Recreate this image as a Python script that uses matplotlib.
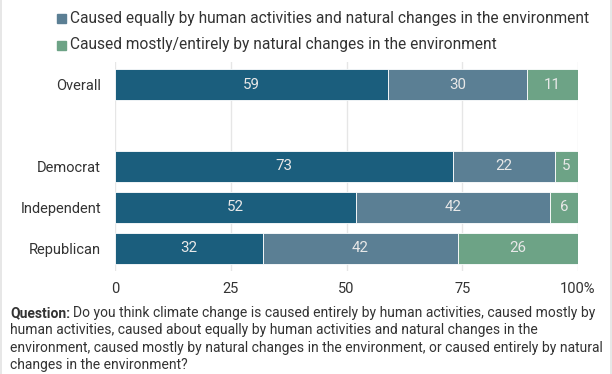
import matplotlib
matplotlib.use("Agg")
import matplotlib.pyplot as plt
from matplotlib.patches import Rectangle
from matplotlib.lines import Line2D

categories = ["Overall", "", "Democrat", "Independent", "Republican"]
human = [59, None, 73, 52, 32]
equal = [30, None, 22, 42, 42]
natural = [11, None, 5, 6, 26]
series_names = [
    "Caused mostly/entirely by human activities",
    "Caused equally by human activities and natural changes in the environment",
    "Caused mostly/entirely by natural changes in the environment",
]
colors = ["#1b5e7d", "#5b7f94", "#6da386"]
xticks = [0, 25, 50, 75, 100]
xticklabels = ["0", "25", "50", "75", "100%"]

plt.rcParams["font.family"] = ["Roboto", "DejaVu Sans"]

W, H = 612, 374
fig = plt.figure(figsize=(W / 100, H / 100), dpi=100)
fig.patch.set_facecolor("white")

left = 115 / W
right = 578 / W
top_px, bot_px = 62, 271
ax = fig.add_axes([left, 1 - bot_px / H, right - left, (bot_px - top_px) / H])
ax.set_xlim(0, 100)
ax.set_ylim(4.5 + 0.05, -0.5 - 0.05)

ax.set_facecolor("white")
for s in ax.spines.values():
    s.set_visible(False)
ax.set_xticks(xticks)
ax.set_xticklabels(xticklabels)
ax.grid(axis="x", color="#e6e6e6", linewidth=1)
ax.set_axisbelow(True)
ax.tick_params(axis="x", length=0, pad=8, labelsize=10.5, labelcolor="#333333")
ax.tick_params(axis="y", length=0, pad=10, labelsize=10.5, labelcolor="#333333")
ax.set_yticks(range(len(categories)))
ax.set_yticklabels(categories)

for i, cat in enumerate(categories):
    if human[i] is None:
        continue
    lefts = 0
    for val, col in zip([human[i], equal[i], natural[i]], colors):
        ax.barh(i, val, left=lefts, height=0.77, color=col,
                edgecolor="white", linewidth=0.6)
        ax.text(lefts + val / 2, i, str(val), ha="center", va="center",
                color="#e8e8e8", fontsize=10.8)
        lefts += val

# Legend (top, partially cut off)
leg_x_sq = 57
leg_x_txt = 70
leg_rows = [-10, 18, 45]
for name, col, ypx in zip(series_names, colors, leg_rows):
    fig.patches.append(Rectangle(((leg_x_sq) / W, 1 - (ypx + 4.5) / H), 9 / W, 9 / H,
                                 transform=fig.transFigure, color=col, figure=fig))
    fig.text(leg_x_txt / W, 1 - ypx / H, name, ha="left", va="center",
             fontsize=11.2, color="#333333")

# Question note
qx = 10 / W
lines = [
    "human activities, caused about equally by human activities and natural changes in the",
    "environment, caused mostly by natural changes in the environment, or caused entirely by natural",
    "changes in the environment?",
]
fs = 10.0
y0 = 313
dy = 17.4
t1 = fig.text(qx, 1 - y0 / H, "Question:", fontsize=fs, fontweight="bold",
              color="#333333", ha="left", va="center")
fig.canvas.draw()
bb = t1.get_window_extent()
fig.text((bb.x1 + 3) / W, 1 - y0 / H,
         "Do you think climate change is caused entirely by human activities, caused mostly by",
         fontsize=fs, color="#333333", ha="left", va="center")
for k, ln in enumerate(lines):
    fig.text(qx, 1 - (y0 + dy * (k + 1)) / H, ln, fontsize=fs, color="#333333",
             ha="left", va="center")
fig.text(qx, 1 - (y0 + dy * 4 + 1) / H,
         "Source: AP-NORC poll conducted February 6-10, 2025, with 1,156 adults nationwide. Margin of error",
         fontsize=fs, color="#999999", ha="left", va="center")

# faint side borders
fig.lines.append(Line2D([0.5 / W, 0.5 / W], [0, 1], transform=fig.transFigure,
                        color="#e3e3e3", linewidth=1.2))
fig.lines.append(Line2D([1 - 1.0 / W, 1 - 1.0 / W], [0, 1], transform=fig.transFigure,
                        color="#e3e3e3", linewidth=1.2))

fig.savefig("out.png", dpi=100, facecolor="white")
